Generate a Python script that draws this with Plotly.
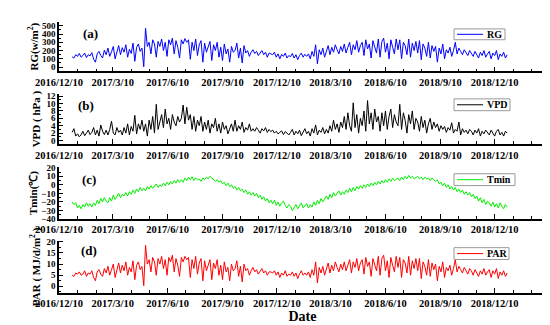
import pandas as pd
import plotly.graph_objects as go

# ---- data (every 3 days, 2017-01-01 .. 2018-12-31) ----
start = "2017-01-01"
rg = [125, 110, 150, 130, 165, 120, 140, 170, 115, 150, 135,
      175, 95, 60, 160, 190, 140, 110, 205, 150,
      230, 130, 185, 250, 100, 200, 260, 150, 235, 180,
      270, 120, 215, 165, 290, 70, 240, 280, 190, 230,
      5, 470, 250, 300, 160, 330, 280, 120, 310, 250, 340,
      200, 300, 130, 330, 270, 350, 160, 320, 240, 110,
      330, 280, 345, 300, 330, 95, 300, 200, 340, 140,
      270, 320, 60, 290, 180, 250, 310, 80, 270, 200,
      300, 120, 240, 80, 280, 160, 220, 60, 250, 180,
      200, 290, 110, 230, 50, 260, 170, 200, 130, 180, 210,
      165, 190, 140, 175, 200, 150, 180, 120, 170, 160,
      150, 180, 120, 160, 100, 155, 130, 170, 110, 140,
      125, 165, 110, 150, 90, 140, 170, 120, 155, 130,
      160, 100, 190, 130, 270, 40, 210, 150, 230, 120,
      200, 260, 150, 240, 180, 270, 210, 160, 250, 190,
      280, 170, 240, 300, 150, 270, 210, 320, 180, 260,
      300, 140, 330, 220, 280, 110, 320, 250, 170, 340,
      120, 310, 350, 180, 290, 100, 330, 240, 160, 340,
      210, 330, 100, 300, 260, 150, 340, 120, 290, 200, 310,
      170, 320, 90, 280, 230, 130, 300, 110, 260, 190,
      250, 60, 230, 160, 280, 100, 210, 170, 240, 130,
      200, 300, 160, 230, 190, 150, 210, 180, 140, 200,
      170, 130, 190, 150, 110, 180, 140, 200, 120, 160,
      190, 100, 170, 140, 200, 90, 160, 130, 180, 110, 150]
vpd = [2.2, 3.2, 1.2, 1.8, 1, 1.5, 2.5, 1.3, 2, 2.8, 1.6,
       2.2, 3.5, 1.5, 2.8, 1.2, 4.2, 2.5, 1.6, 2.8,
       1.5, 3, 5.2, 2, 1.5, 3.5, 2.2, 2.8, 1.5, 3.5,
       2, 4.5, 1.5, 3.8, 2.5, 6.8, 1.8, 4.5, 3, 5.5,
       2.5, 4.5, 1.2, 5.5, 3, 6.5, 2, 9.8, 3, 5.5, 7,
       3.5, 8.5, 4.5, 6, 3, 7, 5, 4, 6.5, 5,
       6, 9.6, 4.5, 9, 5.5, 7, 3, 6.5, 2.5, 5.5,
       4, 6.5, 2.5, 5, 3, 5.5, 2, 4.5, 3.5, 6,
       2.5, 4.5, 2, 5, 3, 4, 1.8, 3.5, 4.5, 2.5,
       5.5, 2.5, 4, 3, 5, 2.2, 3.5, 2.8, 4.5, 2.5, 3.2,
       2.5, 3.5, 2.8, 2, 3.2, 2.6, 3.5, 2.2, 3, 2.4,
       2.8, 2, 2.5, 1.8, 2.2, 2.6, 1.6, 2.4, 2, 1.5,
       2.2, 3, 1.5, 2.5, 1.8, 2.8, 1.3, 2.2, 3.2, 1.8,
       2.5, 1.2, 3.2, 2, 4.2, 1.5, 2.8, 2.2, 3.5, 1.8,
       3, 2, 4, 2.5, 5.5, 3, 4.5, 2.2, 5, 3.5,
       6.5, 3, 7.5, 4, 2.5, 10.2, 3.5, 7, 2, 6,
       4, 8, 2.5, 10.8, 4.5, 7.5, 3, 8.5, 5, 6.5,
       2.5, 7.5, 4, 8, 3, 6.5, 8.5, 3.5, 7, 5,
       4, 9.8, 3, 7.5, 5.5, 2, 7, 4.5, 8, 3, 6,
       5, 2.5, 6.5, 3.5, 5.5, 2, 4.5, 6, 3, 5,
       3.5, 4.5, 2.5, 4, 3, 3.8, 2.2, 3.5, 2.8, 4.8,
       2, 3, 2.5, 5, 1.5, 3.2, 2.2, 2.8, 1.8, 3,
       2.5, 1.5, 2.8, 2, 3.2, 1.2, 2.5, 1.8, 2.8, 2,
       1.5, 2.8, 2, 1.2, 2.5, 3, 1.5, 2.2, 1.2, 2.5, 2]
tmin = [-20, -23, -21, -27, -24, -28, -23, -26, -21, -25, -22,
        -26, -21, -24, -18, -22, -16, -20, -15, -19,
        -21, -15, -19, -12, -17, -13, -10, -15, -11, -13,
        -9, -13, -8, -11, -6, -10, -5, -8, -3, -7,
        -4, -7, -2, -5, -1, -4, -2, 1, -3, 0, -2,
        2, -1, 3, 0, 4, 1, 5, 2, 6, 3,
        6, 3, 8, 5, 9, 6, 9.5, 5, 8, 6,
        7, 4, 8, 6, 9, 7, 10, 8, 6, 4,
        6, 3, 5, 1, 3, -1, 2, -2, 0, -4,
        -2, -6, -3, -7, -5, -9, -6, -11, -8, -12, -9,
        -13, -10, -15, -12, -17, -14, -19, -16, -21, -18,
        -22, -18, -24, -20, -25, -21, -19, -24, -27, -23,
        -25, -30, -26, -23, -28, -24, -21, -27, -24, -22,
        -27, -23, -26, -20, -24, -18, -22, -16, -20, -17,
        -13, -17, -11, -15, -9, -13, -10, -7, -12, -8,
        -11, -6, -9, -4, -8, -3, -7, -2, -5, -1,
        -4, 0, -3, 1, -2, 2, -1, 3, 0, 4,
        1, 5, 2, 6, 3, 7, 4, 8, 5, 7,
        8, 5, 9, 6, 10, 7, 11, 8, 10, 7, 9,
        10, 7, 9, 6, 9, 7, 8, 5, 8, 6,
        4, 6, 1, 3, -1, 2, -3, 0, -5, -2,
        -6, -3, -8, -5, -9, -6, -11, -8, -12, -9,
        -14, -11, -16, -13, -19, -15, -21, -17, -23, -19,
        -21, -25, -20, -26, -22, -27, -21, -25, -28, -23, -26]
par = [5, 4.5, 6, 5.5, 6.5, 5, 5.5, 7, 4.5, 6, 5.5,
       7, 4, 2.5, 6.5, 7.5, 5.5, 4.5, 8, 6,
       9, 5, 7.5, 10, 4, 8, 10.5, 6, 9.5, 7,
       11, 5, 8.5, 6.5, 11.5, 3, 9.5, 11, 7.5, 9,
       0.3, 18.5, 10, 12, 6.5, 13, 11, 5, 12.5, 10, 13.5,
       8, 12, 5, 13, 11, 14, 6.5, 12.5, 9.5, 4.5,
       13, 11, 13.5, 12, 13, 4, 12, 8, 13.5, 5.5,
       10.5, 12.5, 2.5, 11.5, 7, 10, 12, 3, 10.5, 8,
       12, 5, 9.5, 3, 11, 6.5, 8.5, 2.5, 10, 7,
       8, 11.5, 4.5, 9, 2, 10, 7, 8, 5, 7, 8.5,
       6.5, 7.5, 5.5, 7, 8, 6, 7, 5, 6.5, 6.5,
       6, 7, 5, 6.5, 4, 6, 5, 7, 4.5, 5.5,
       5, 6.5, 4.5, 6, 3.5, 5.5, 7, 5, 6, 5,
       6.5, 4, 7.5, 5, 11, 1.5, 8.5, 6, 9, 5,
       8, 10.5, 6, 9.5, 7, 11, 8.5, 6.5, 10, 7.5,
       11, 7, 9.5, 12, 6, 11, 8.5, 12.5, 7, 10.5,
       12, 5.5, 13, 9, 11, 4.5, 12.5, 10, 7, 13.5,
       5, 12.5, 14, 7, 11.5, 4, 13, 9.5, 6.5, 13.5,
       8.5, 13, 4, 12, 10.5, 6, 13.5, 5, 11.5, 8, 12.5,
       7, 12.5, 3.5, 11, 9, 5, 12, 4.5, 10.5, 7.5,
       10, 2.5, 9, 6.5, 11, 4, 8.5, 7, 9.5, 5,
       8, 12, 6.5, 9, 7.5, 6, 8.5, 7, 5.5, 8,
       7, 5, 7.5, 6, 4.5, 7, 5.5, 8, 5, 6.5,
       7.5, 4, 7, 5.5, 8, 3.5, 6.5, 5, 7, 4.5, 6]

tick_dates = ["2016-12-10", "2017-03-10", "2017-06-10", "2017-09-10", "2017-12-10",
              "2018-03-10", "2018-06-10", "2018-09-10", "2018-12-10"]
tick_text = ["2016/12/10", "2017/3/10", "2017/6/10", "2017/9/10", "2017/12/10",
             "2018/3/10", "2018/6/10", "2018/9/10", "2018/12/10"]

names = ["RG", "VPD", "Tmin", "PAR"]
values = [rg, vpd, tmin, par]
colors = ["#0000ff", "#000000", "#00ee00", "#ff0000"]
ytitles = ["RG(w/m<sup>2</sup>)", "VPD ( hPa )", "Tmin(\u2103)", "PAR ( MJ/d/m<sup>2</sup> )"]
yranges = [[-50, 545], [-1, 12.6], [-40, 21], [-3, 20.5]]
dticks = [100, 2, 10, 5]
minor_dticks = [50, 1, 5, 2.5]
labels = ["(a)", "(b)", "(c)", "(d)"]

# layout geometry (pixels of the 550x325 canvas)
L, R, T, B = 51, 12, 10, 40
W, H = 550, 325
PW, PH = W - L - R, H - T - B
def px(x):
    return (x - L) / PW
def py(y):
    return (H - B - y) / PH

panel_px = [(10, 60), (83, 134), (157, 210), (232, 285)]
legend_box = [(17, 28, 497), (88, 100, 502), (164, 176, 507), (239, 251, 501)]
label_px = [(82, 22), (78, 95), (81, 170), (81, 242)]
title_standoff = [1, 4, 1, 4]

FONT = "Liberation Serif"
fig = go.Figure()
layout = dict(
    width=W, height=H,
    margin=dict(l=L, r=R, t=T, b=B),
    paper_bgcolor="white", plot_bgcolor="white",
    font=dict(family=FONT, size=10, color="black", weight="bold"),
    showlegend=False,
    annotations=[], shapes=[],
)
for i in range(4):
    n = i + 1
    sfx = "" if n == 1 else str(n)
    vals = values[i]
    dates = pd.date_range(start, periods=len(vals), freq="3D")
    fig.add_trace(go.Scatter(
        x=dates, y=vals, mode="lines", name=names[i],
        line=dict(color=colors[i], width=1),
        xaxis="x" + sfx, yaxis="y" + sfx,
    ))
    layout["xaxis" + sfx] = dict(
        domain=[0, 1], anchor="y" + sfx, type="date",
        range=["2016-12-10", "2019-03-06"],
        tickmode="array", tickvals=tick_dates, ticktext=tick_text,
        ticks="inside", ticklen=5, tickwidth=1.2, tickcolor="black",
        minor=dict(dtick="M1", tick0="2016-12-10", ticks="inside", ticklen=3,
                   tickcolor="black", tickwidth=1),
        showline=True, linecolor="black", linewidth=1.5,
        showgrid=False, zeroline=False,
        tickfont=dict(family=FONT, size=10.5, weight="bold"),
    )
    top, bot = panel_px[i]
    layout["yaxis" + sfx] = dict(
        domain=[py(bot), py(top)], anchor="x" + sfx, range=yranges[i],
        dtick=dticks[i], tick0=0,
        ticks="inside", ticklen=4, tickwidth=1.2, tickcolor="black",
        minor=dict(dtick=minor_dticks[i], tick0=0, ticks="inside", ticklen=2,
                   tickcolor="black", tickwidth=1),
        showline=True, linecolor="black", linewidth=1.5,
        showgrid=False, zeroline=False,
        tickfont=dict(family=FONT, size=9, weight="bold"),
        title=dict(text=ytitles[i], standoff=title_standoff[i],
                   font=dict(family=FONT, size=11, weight="bold")),
    )
    # legend box drawn in the panel's top-right corner
    y0, y1, xr = legend_box[i]
    ym = (y0 + y1) / 2
    layout["shapes"].append(dict(
        type="rect", xref="paper", yref="paper",
        x0=px(446), x1=px(xr), y0=py(y1), y1=py(y0),
        line=dict(color="#999999", width=1), fillcolor="white", layer="above",
    ))
    layout["shapes"].append(dict(
        type="line", xref="paper", yref="paper",
        x0=px(449), x1=px(475), y0=py(ym), y1=py(ym),
        line=dict(color=colors[i], width=1), layer="above",
    ))
    layout["annotations"].append(dict(
        text=names[i], xref="paper", yref="paper", x=px(477), y=py(ym),
        xanchor="left", yanchor="middle", showarrow=False,
        font=dict(family=FONT, size=10, weight="bold"),
    ))
    lx, ly = label_px[i]
    layout["annotations"].append(dict(
        text=labels[i], xref="paper", yref="paper", x=px(lx), y=py(ly),
        xanchor="center", yanchor="middle",
        showarrow=False, font=dict(family=FONT, size=13, weight="bold"),
    ))

layout["xaxis4"]["title"] = dict(text="Date", standoff=0,
                                  font=dict(family=FONT, size=14, weight="bold"))
fig.update_layout(**layout)
fig.write_html("out.html")
